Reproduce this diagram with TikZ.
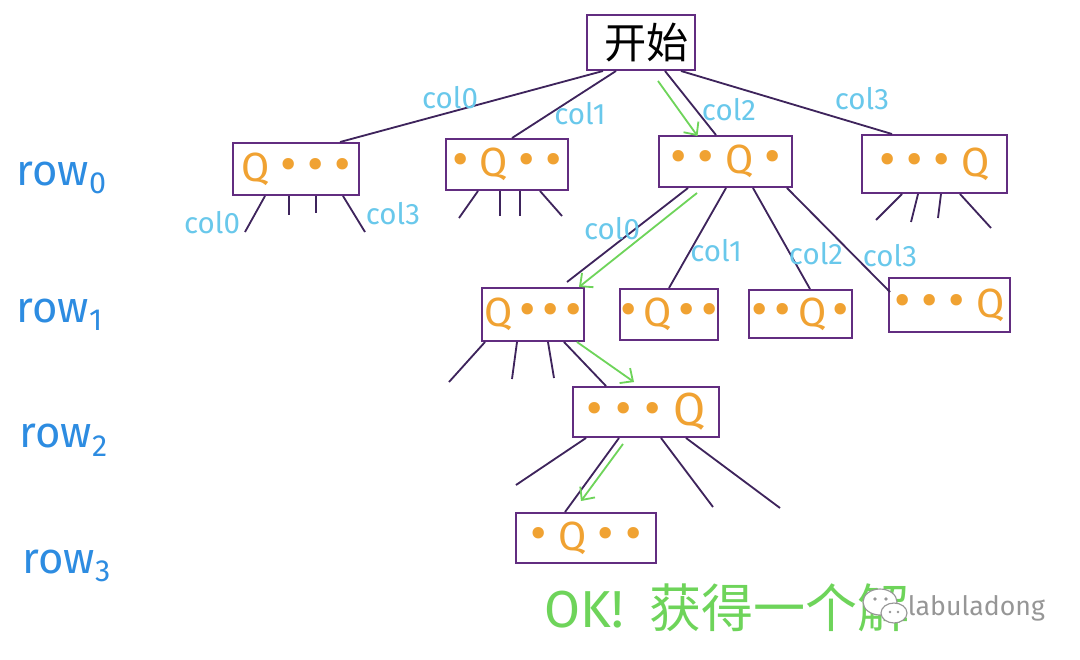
\documentclass[tikz,border=0pt]{standalone}
\usepackage{fontspec}
\setmainfont{Fira Sans}
\newfontfamily\cjk{Noto Sans CJK SC}
\usetikzlibrary{arrows.meta,calc}
\definecolor{boxc}{RGB}{98,45,128}
\definecolor{linec}{RGB}{62,36,92}
\definecolor{qorange}{RGB}{240,162,50}
\definecolor{colblue}{RGB}{105,200,235}
\definecolor{rowblue}{RGB}{45,140,225}
\definecolor{greenc}{RGB}{110,212,90}
\definecolor{wmgray}{RGB}{150,150,150}
\newcommand{\qd}{{\fontsize{36}{36}\selectfont •}}
\begin{document}
\begin{tikzpicture}[x=0.025cm,y=-0.025cm,
  qbox/.style={draw=boxc,line width=1.4pt,inner sep=0pt,text=qorange,font=\fontsize{29}{30}\selectfont},
  link/.style={draw=linec,line width=1.3pt},
  garrow/.style={draw=greenc,line width=1.3pt,-{Straight Barb[length=7pt,width=13pt]}},
  collab/.style={text=colblue,font=\fontsize{21}{23}\selectfont},
  rowlab/.style={text=rowblue,font=\fontsize{31}{33}\selectfont,anchor=west}]
\useasboundingbox (0,0) rectangle (1080,659);

% boxes
\node[qbox,text=black,minimum width=108*0.025cm,minimum height=55*0.025cm,font=\cjk\fontsize{30}{32}\selectfont] (S) at (641,42.5) {\hspace{8pt}开始};
\node[qbox,minimum width=126*0.025cm,minimum height=52*0.025cm] (A) at (296,169) {Q \qd\ \qd\ \qd};
\node[qbox,minimum width=122*0.025cm,minimum height=51*0.025cm] (B) at (507,164.5) {\qd\ Q \qd\ \qd};
\node[qbox,minimum width=133*0.025cm,minimum height=51*0.025cm] (C) at (725.5,161.5) {\qd\ \qd\ Q \qd};
\node[qbox,minimum width=145*0.025cm,minimum height=58*0.025cm] (D) at (934.5,164) {\qd\ \qd\ \qd\ Q};
\node[qbox,minimum width=102*0.025cm,minimum height=53*0.025cm] (E) at (533,314.5) {Q\,\qd\,\qd\,\qd};
\node[qbox,minimum width=92*0.025cm,minimum height=51*0.025cm] (F) at (669,314.5) {\qd\,Q\,\qd\,\qd};
\node[qbox,minimum width=103*0.025cm,minimum height=48*0.025cm] (G) at (800.5,314) {\qd\,\qd\,Q\,\qd};
\node[qbox,minimum width=121*0.025cm,minimum height=54*0.025cm] (H) at (949.5,305) {\qd\ \qd\ \qd\ Q};
\node[qbox,minimum width=146*0.025cm,minimum height=50*0.025cm,font=\fontsize{33}{34}\selectfont] (I) at (646,412) {\qd\hspace{9pt}\qd\hspace{9pt}\qd\hspace{9pt}Q};
\node[qbox,minimum width=140*0.025cm,minimum height=50*0.025cm] (J) at (586,538) {\qd\hspace{8pt}Q\hspace{8pt}\qd\hspace{8pt}\qd};

% root edges
\draw[link] ($(S.south)+(-38,0)$) -- ($(A.north)+(44,0)$);
\draw[link] ($(S.south)+(-25,0)$) -- ($(B.north)+(5,0)$);
\draw[link] ($(S.south)+(24,0)$) -- ($(C.north)+(-9.5,0)$);
\draw[link] ($(S.south)+(40,0)$) -- ($(D.north)+(-42.5,0)$);
\draw[garrow] ($(S.south)+(17,10)$) -- ($(C.north)+(-28,1)$);
\node[collab] (l00) at (450,98) {col0};
\node[collab] (l01) at (580,114) {col1};
\node[collab] (l02) at (729,110) {col2};
\node[collab] (l03) at (862,99) {col3};

% stubs of A, B, D
\coordinate (a1) at (245,232); \coordinate (a2) at (289,215);
\coordinate (a3) at (316,213); \coordinate (a4) at (365,232);
\draw[link] ($(A.south)+(-31,0)$) -- (a1);
\draw[link] ($(A.south)+(-7,0)$) -- (a2);
\draw[link] ($(A.south)+(20,0)$) -- (a3);
\draw[link] ($(A.south)+(47,0)$) -- (a4);
\node[collab] (la0) at (212,223) {col0};
\node[collab] (la3) at (393,214) {col3};
\coordinate (b1) at (459,218); \coordinate (b2) at (500,216);
\coordinate (b3) at (520,216); \coordinate (b4) at (562,216);
\draw[link] ($(B.south)+(-29,0)$) -- (b1);
\draw[link] ($(B.south)+(-7,0)$) -- (b2);
\draw[link] ($(B.south)+(13,0)$) -- (b3);
\draw[link] ($(B.south)+(33,0)$) -- (b4);
\coordinate (d1) at (876,220); \coordinate (d2) at (911,222);
\coordinate (d3) at (938,218); \coordinate (d4) at (991,228);
\draw[link] ($(D.south)+(-32.5,0)$) -- (d1);
\draw[link] ($(D.south)+(-16.5,0)$) -- (d2);
\draw[link] ($(D.south)+(6.5,0)$) -- (d3);
\draw[link] ($(D.south)+(25.5,0)$) -- (d4);

% C children
\draw[link] ($(C.south)+(-37.5,0)$) -- ($(E.north)+(34,-5)$);
\draw[garrow] ($(C.south)+(-28.5,5)$) -- ($(E.north)+(46,0)$);
\draw[link] ($(C.south)+(0.5,0)$) -- (F.north);
\draw[link] ($(C.south)+(27.5,0)$) -- ($(G.north)+(9.5,0)$);
\draw[link] ($(C.south)+(61.5,0)$) -- ($(H.west)+(2,-13)$);
\node[collab] (lc0) at (612,229) {col0};
\node[collab] (lc1) at (716,251) {col1};
\node[collab] (lc2) at (816,254) {col2};
\node[collab] (lc3) at (890,256) {col3};

% E children
\coordinate (e1) at (449,382); \coordinate (e2) at (512,379); \coordinate (e3) at (554,378);
\draw[link] ($(E.south)+(-48,0)$) -- (e1);
\draw[link] ($(E.south)+(-16,0)$) -- (e2);
\draw[link] ($(E.south)+(15,0)$) -- (e3);
\draw[link] ($(E.south)+(31,0)$) -- ($(I.north)+(-40,0)$);
\draw[garrow] ($(E.south)+(44,0)$) -- ($(I.north)+(-12,-4)$);

% I children
\coordinate (i1) at (516,485); \coordinate (i3) at (713,507); \coordinate (i4) at (780,508);
\draw[link] ($(I.south)+(-60,0)$) -- (i1);
\draw[link] ($(I.south)+(-27,0)$) -- ($(J.north)+(-21,0)$);
\draw[garrow] ($(I.south)+(-23,6)$) -- ($(J.north)+(-5,-11)$);
\draw[link] ($(I.south)+(15,0)$) -- (i3);
\draw[link] ($(I.south)+(40,0)$) -- (i4);

% row labels
\node[rowlab] (r0) at (12,178) {row\textsubscript{0}};
\node[rowlab] (r1) at (12,315) {row\textsubscript{1}};
\node[rowlab] (r2) at (15,440) {row\textsubscript{2}};
\node[rowlab] (r3) at (18,566) {row\textsubscript{3}};

% result text
\node[anchor=west,text=greenc,font=\fontsize{37}{39}\selectfont] (ok) at (540,608) {OK!\hspace{18pt}{\cjk 获得一个解}};

% watermark
\draw[wmgray,fill=white,line width=0.8pt] (880,602) ellipse (17 and 13);
\draw[wmgray,fill=white,line width=0.8pt] (894,613) ellipse (13 and 10);
\fill[wmgray] (875,599) circle (1.8) (886,599) circle (1.8) (890,612) circle (1.4) (898,612) circle (1.4);
\node[anchor=west,text=wmgray,font=\fontsize{19}{21}\selectfont] (wm) at (903,608) {labuladong};
\end{tikzpicture}
\end{document}
